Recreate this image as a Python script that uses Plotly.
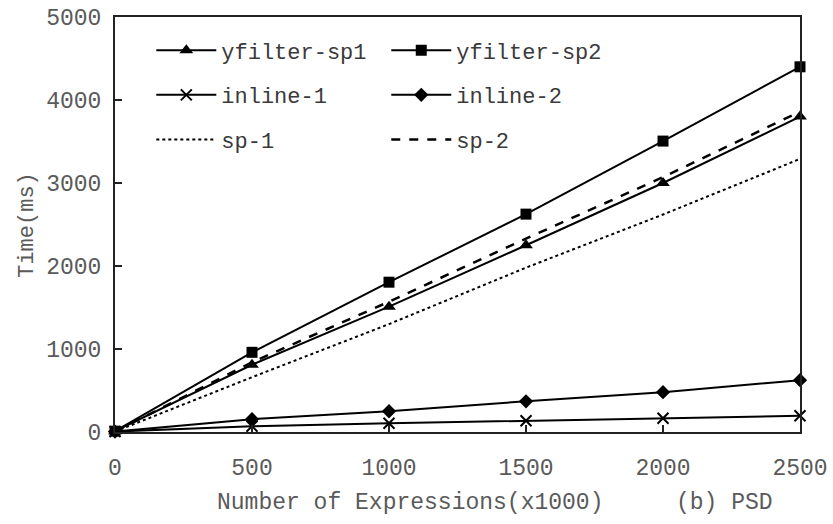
import plotly.graph_objects as go

x_vals = [0, 500, 1000, 1500, 2000, 2500]
yfilter_sp1 = [10, 810, 1510, 2250, 3000, 3800]
yfilter_sp2 = [10, 960, 1805, 2625, 3505, 4400]
inline_1 = [5, 70, 105, 135, 165, 195]
inline_2 = [5, 155, 250, 370, 480, 625]
sp_1 = [5, 660, 1300, 1980, 2620, 3290]
sp_2 = [5, 840, 1570, 2330, 3070, 3860]
y_ticks = [0, 1000, 2000, 3000, 4000, 5000]

FONT = "Liberation Mono, Courier New, monospace"
GRAY = "#5a5a5a"

fig = go.Figure()

def add(name, y, dash, symbol, msize, legend, group, width=2):
    fig.add_trace(go.Scatter(
        x=x_vals, y=y, name=name, mode="lines+markers" if symbol else "lines",
        line=dict(color="black", width=width, dash=dash),
        marker=dict(symbol=symbol or "circle", size=msize, color="black",
                    line=dict(color="black", width=2 if symbol == "x-thin" else 0)),
        cliponaxis=False, legend=legend, legendgroup=group,
    ))

add("yfilter-sp1", yfilter_sp1, "solid", "triangle-up", 12, "legend", "a")
add("inline-1", inline_1, "solid", "x-thin", 11, "legend", "b")
add("sp-1", sp_1, "dot", None, 0, "legend", "c")
add("yfilter-sp2", yfilter_sp2, "solid", "square", 11, "legend2", "d")
add("inline-2", inline_2, "solid", "diamond", 11, "legend2", "e")
add("sp-2", sp_2, "dash", None, 0, "legend2", "f", width=2.5)

leg_common = dict(bgcolor="rgba(0,0,0,0)", font=dict(family=FONT, size=22, color="#3a3a3a"),
                  tracegroupgap=13, yanchor="top", xanchor="left", itemwidth=60)

fig.update_layout(
    width=833, height=524,
    margin=dict(l=115, r=33, t=17, b=92, autoexpand=False),
    paper_bgcolor="white", plot_bgcolor="white",
    showlegend=True,
    legend=dict(x=0.053, y=0.97, **leg_common),
    legend2=dict(x=0.396, y=0.97, **leg_common),
    xaxis=dict(range=[0, 2500], tickvals=x_vals, ticks="inside", ticklen=7, tickwidth=2,
               tickcolor="#222", showline=True, linecolor="#222", linewidth=2, mirror=True,
               showgrid=False, zeroline=False, ticklabelstandoff=13, automargin=False,
               ticklabeloverflow="allow",
               tickfont=dict(family=FONT, size=23, color=GRAY)),
    yaxis=dict(range=[0, 5000], tickvals=y_ticks, ticks="inside",
               ticklen=7, tickwidth=2, tickcolor="#222", showline=True, linecolor="#222",
               linewidth=2, mirror=True, showgrid=False, zeroline=False, ticklabelstandoff=7,
               automargin=False, ticklabeloverflow="allow",
               tickfont=dict(family=FONT, size=23, color=GRAY)),
    annotations=[
        dict(text="Time(ms)", xref="paper", yref="paper", x=-0.128, y=0.5, textangle=-90,
             showarrow=False, xanchor="center", yanchor="middle",
             font=dict(family=FONT, size=22, color=GRAY)),
        dict(text="Number of Expressions(x1000)", xref="paper", yref="paper", x=0.43, y=-0.172,
             showarrow=False, xanchor="center", yanchor="middle",
             font=dict(family=FONT, size=23, color=GRAY)),
        dict(text="(b) PSD", xref="paper", yref="paper", x=0.89, y=-0.172,
             showarrow=False, xanchor="center", yanchor="middle",
             font=dict(family=FONT, size=23, color=GRAY)),
    ],
)

fig.write_html("out.html", config={"displayModeBar": False},
               post_script="document.body.style.margin='0';document.body.style.overflow='hidden';")
